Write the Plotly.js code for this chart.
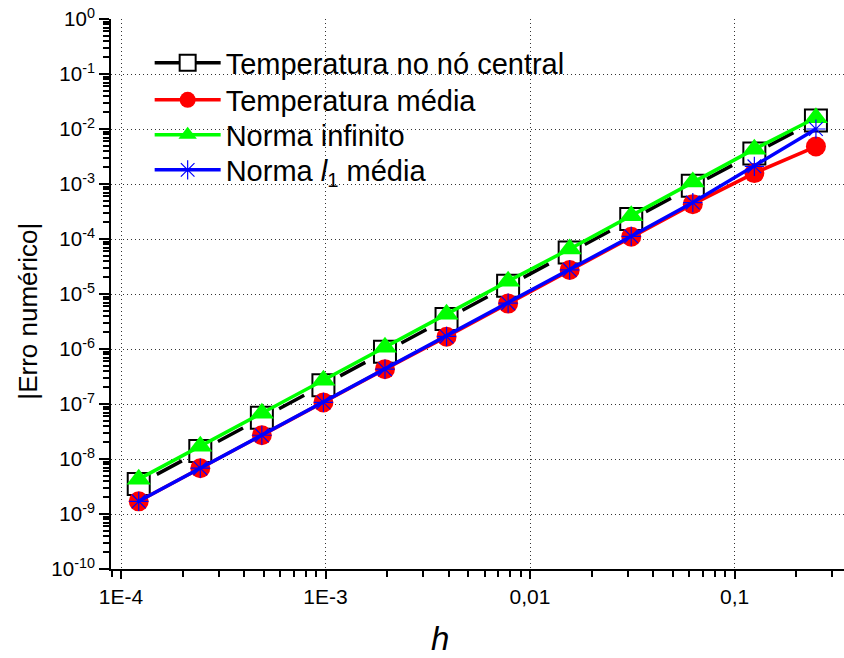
<!DOCTYPE html>
<html>
<head>
<meta charset="utf-8">
<script src="https://cdn.plot.ly/plotly-3.0.1.min.js"></script>
<style>
html,body{margin:0;padding:0;overflow:hidden;background:#fff;}
#chart{width:848px;height:658px;}
</style>
</head>
<body>
<div id="chart"></div>
<script>
// Mesh size h
const h = [1.220703125e-4, 2.44140625e-4, 4.8828125e-4, 9.765625e-4, 1.953125e-3, 3.90625e-3, 7.8125e-3, 1.5625e-2, 3.125e-2, 6.25e-2, 0.125, 0.25];
// Series (|numerical error|)
const tempCentral = [3.5e-9, 1.4e-8, 5.6e-8, 2.2e-7, 8.9e-7, 3.5e-6, 1.41e-5, 5.7e-5, 2.31e-4, 9.3e-4, 3.6e-3, 1.42e-2];
const tempMedia   = [1.7e-9, 6.8e-9, 2.7e-8, 1.07e-7, 4.3e-7, 1.67e-6, 6.7e-6, 2.73e-5, 1.1e-4, 4.3e-4, 1.58e-3, 4.8e-3];
const normaInf    = [4.3e-9, 1.7e-8, 6.8e-8, 2.7e-7, 1.08e-6, 4.3e-6, 1.71e-5, 6.6e-5, 2.66e-4, 1.09e-3, 4.3e-3, 1.6e-2];
const normaL1     = [1.7e-9, 6.8e-9, 2.7e-8, 1.07e-7, 4.3e-7, 1.69e-6, 6.8e-6, 2.75e-5, 1.12e-4, 4.6e-4, 2.1e-3, 1.0e-2];

const seriesNames = ['Temperatura no nó central', 'Temperatura média', 'Norma infinito', 'Norma <i>l</i><sub>1</sub> média'];

// Tick labels
const yTickVals = [1e-10, 1e-9, 1e-8, 1e-7, 1e-6, 1e-5, 1e-4, 1e-3, 1e-2, 1e-1, 1];
const yTickText = ['10<sup>-10</sup>', '10<sup>-9</sup>', '10<sup>-8</sup>', '10<sup>-7</sup>', '10<sup>-6</sup>', '10<sup>-5</sup>', '10<sup>-4</sup>', '10<sup>-3</sup>', '10<sup>-2</sup>', '10<sup>-1</sup>', '10<sup>0</sup>'];
const xTickVals = [1e-4, 1e-3, 1e-2, 1e-1];
const xTickText = ['1E-4', '1E-3', '0,01', '0,1'];

// minor tick positions (2..9 per decade)
function minorVals(p0, p1) {
  const out = [];
  for (let p = p0; p <= p1; p++) for (let k = 2; k <= 9; k++) out.push(k * Math.pow(10, p));
  return out;
}
const xMinor = minorVals(-5, 0);
const yMinor = minorVals(-11, 0);

const FONT = 'Liberation Sans, Arial, sans-serif';
const xRange = [-4.049, -0.455];
const yRange = [-10, 0];

const traces = [
  { x: h, y: tempCentral, name: seriesNames[0], mode: 'lines+markers', showlegend: false,
    line: { color: '#000000', width: 3.5, dash: '0px,20.5px,28.5px,20.4px' },
    marker: { symbol: 'square', size: 22, color: '#ffffff', line: { color: '#000000', width: 2 } } },
  { x: h, y: tempMedia, name: seriesNames[1], mode: 'lines+markers', legend: 'legend2',
    line: { color: '#ff0000', width: 3.5 },
    marker: { symbol: 'circle', size: 20, color: '#ff0000', line: { width: 0 } } },
  { x: h, y: normaInf, name: seriesNames[2], mode: 'lines+markers', legend: 'legend3',
    line: { color: '#00ff00', width: 3.5 },
    marker: { symbol: 'triangle-up', size: 21, color: '#00ff00', line: { width: 0 } } },
  { x: h, y: normaL1, name: seriesNames[3], mode: 'lines+markers', legend: 'legend4',
    line: { color: '#0000ff', width: 3.5 },
    marker: { symbol: 'asterisk-open', size: 16, color: '#0000ff', line: { color: '#0000ff', width: 1.2 } } },
  // legend entry for the first series (solid line in the legend)
  { x: [null], y: [null], name: seriesNames[0], mode: 'lines+markers', legend: 'legend', hoverinfo: 'skip',
    line: { color: '#000000', width: 3.5 },
    marker: { symbol: 'square', size: 20, color: '#ffffff', line: { color: '#000000', width: 2 } } }
];

function legendAt(yc) {
  return {
    x: 0.0526, y: 1 - (yc - 19) / 550, xanchor: 'left', yanchor: 'middle',
    bgcolor: 'rgba(0,0,0,0)', borderwidth: 0,
    font: { family: FONT, size: 29, color: '#000000' },
    itemwidth: 66
  };
}

const layout = {
  width: 848, height: 658,
  margin: { l: 111, r: 2, t: 19, b: 89 },
  paper_bgcolor: '#ffffff', plot_bgcolor: '#ffffff',
  font: { family: FONT, color: '#000000' },
  showlegend: true,
  legend: legendAt(63),
  legend2: legendAt(100),
  legend3: legendAt(135),
  legend4: legendAt(170),
  xaxis: {
    type: 'log', range: xRange, autorange: false,
    tickmode: 'array', tickvals: xTickVals, ticktext: xTickText,
    tickfont: { family: FONT, size: 21 },
    ticks: 'outside', ticklen: 8, tickwidth: 2, tickcolor: '#000',
    ticklabelstandoff: 0,
    minor: { tickmode: 'array', tickvals: xMinor, ticks: 'outside', ticklen: 6, tickwidth: 2, tickcolor: '#000', showgrid: false },
    showline: true, linecolor: '#000', linewidth: 2,
    showgrid: true, gridcolor: '#333333', gridwidth: 1, griddash: '1px,3px',
    zeroline: false
  },
  yaxis: {
    type: 'log', range: yRange, autorange: false,
    tickmode: 'array', tickvals: yTickVals, ticktext: yTickText,
    tickfont: { family: FONT, size: 20.5 },
    ticks: 'outside', ticklen: 10, tickwidth: 2, tickcolor: '#000',
    minor: { tickmode: 'array', tickvals: yMinor, ticks: 'outside', ticklen: 6, tickwidth: 2, tickcolor: '#000', showgrid: false },
    showline: true, linecolor: '#000', linewidth: 2,
    showgrid: true, gridcolor: '#333333', gridwidth: 1, griddash: '1px,3px',
    zeroline: false
  },
  xaxis2: {
    type: 'log', range: xRange, autorange: false, overlaying: 'x', side: 'top', anchor: 'y',
    tickmode: 'array', tickvals: xTickVals, showticklabels: false,
    ticks: 'inside', ticklen: 9, tickwidth: 2, tickcolor: '#000',
    minor: { tickmode: 'array', tickvals: xMinor, ticks: 'inside', ticklen: 6, tickwidth: 2, tickcolor: '#000', showgrid: false },
    showline: true, linecolor: '#000', linewidth: 2, showgrid: false, zeroline: false
  },
  yaxis2: {
    type: 'log', range: yRange, autorange: false, overlaying: 'y', side: 'right', anchor: 'x',
    tickmode: 'array', tickvals: yTickVals, showticklabels: false,
    ticks: 'inside', ticklen: 8, tickwidth: 2, tickcolor: '#000',
    showline: true, linecolor: '#000', linewidth: 2, showgrid: false, zeroline: false
  },
  shapes: [
    { type: 'rect', xref: 'paper', yref: 'paper', x0: 0.0299, x1: 0.642, y0: 0.6618, y1: 0.996,
      fillcolor: '#ffffff', line: { width: 0 }, layer: 'between' }
  ],
  annotations: [
    { text: '|Erro numérico|', xref: 'paper', yref: 'paper', x: -0.1135, y: 0.469,
      xanchor: 'center', yanchor: 'middle', textangle: -90, showarrow: false,
      font: { family: FONT, size: 26, color: '#000' } },
    { text: '<i>h</i>', xref: 'paper', yref: 'paper', x: 0.4476, y: -0.1255,
      xanchor: 'center', yanchor: 'middle', showarrow: false,
      font: { family: FONT, size: 33, color: '#000' } }
  ]
};

Plotly.newPlot('chart', traces, layout, { staticPlot: true, displayModeBar: false });
</script>
</body>
</html>
